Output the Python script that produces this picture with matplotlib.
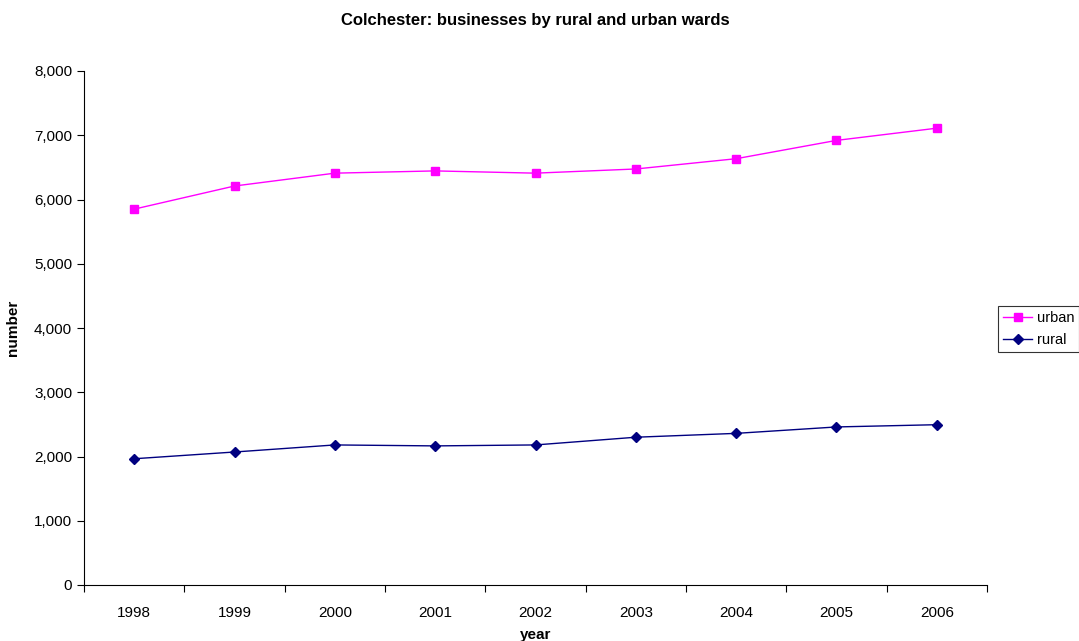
import matplotlib
matplotlib.use("Agg")
import matplotlib.pyplot as plt
from matplotlib.ticker import FuncFormatter

years = ["1998", "1999", "2000", "2001", "2002", "2003", "2004", "2005", "2006"]
urban = [5850, 6210, 6410, 6445, 6410, 6475, 6635, 6920, 7110]
rural = [1965, 2070, 2180, 2165, 2180, 2300, 2360, 2460, 2495]

plt.rcParams['font.family'] = ['Liberation Sans', 'DejaVu Sans']
fig = plt.figure(figsize=(10.79, 6.41), dpi=100)
ax = fig.add_axes([84/1079, 56/641, (987-84)/1079, (585-71)/641])

x = list(range(len(years)))
ax.plot(x, urban, color='#FF00FF', marker='s', markersize=6, linewidth=1, label='urban')
ax.plot(x, rural, color='#000080', marker='D', markersize=5, linewidth=1, label='rural')

ax.set_xlim(-0.5, len(years) - 0.5)
ax.set_ylim(0, 8000)
ax.set_yticks(range(0, 8001, 1000))
ax.yaxis.set_major_formatter(FuncFormatter(lambda v, p: f"{int(v):,}"))
ax.set_xticks([i - 0.5 for i in range(len(years) + 1)])
ax.set_xticklabels([])
ax.set_xticks(x, minor=True)
ax.set_xticklabels(years, minor=True)
ax.tick_params(axis='x', which='minor', length=0, pad=15, labelsize=11)
ax.tick_params(axis='x', which='major', length=5, direction='out')
ax.tick_params(axis='y', length=5, direction='out', labelsize=11)
for s in ['top', 'right']:
    ax.spines[s].set_visible(False)

ax.set_xlabel('year', fontsize=11, fontweight='bold', labelpad=6)
ax.set_ylabel('number', fontsize=11, fontweight='bold', labelpad=10)
fig.suptitle('Colchester: businesses by rural and urban wards', fontsize=12, fontweight='bold', y=0.98, x=(84+987)/2/1079)

leg = fig.legend(loc='center left', bbox_to_anchor=(998/1079, 1 - 329/641), frameon=True,
                 fancybox=False, edgecolor='black', fontsize=10.5, borderpad=0.35,
                 handlelength=2.0, labelspacing=0.6, handletextpad=0.3, borderaxespad=0)
leg.get_frame().set_linewidth(0.8)

fig.savefig('out.png', dpi=100)
